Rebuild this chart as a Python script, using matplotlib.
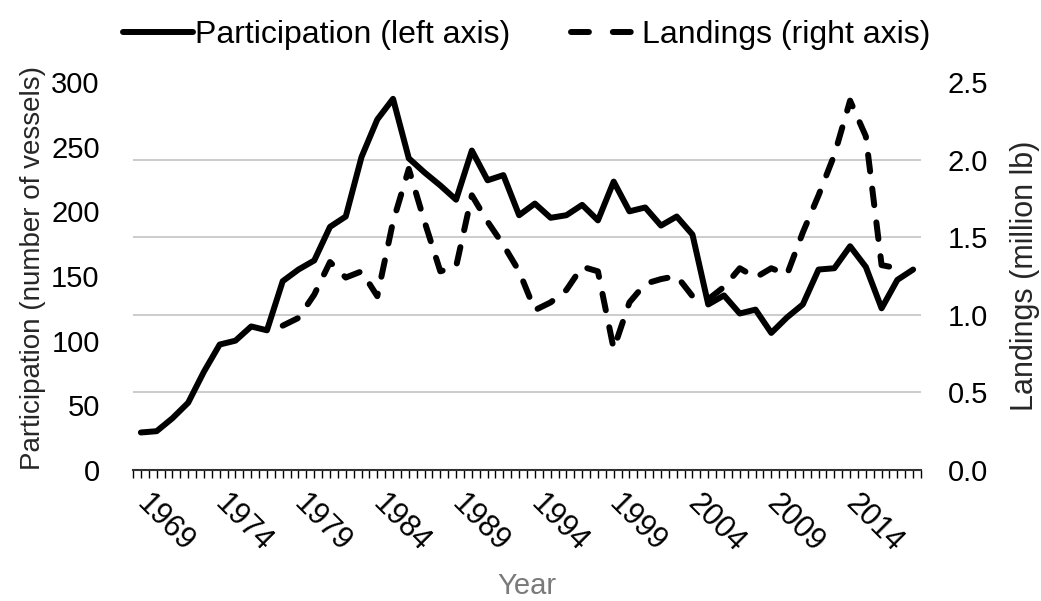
import matplotlib
matplotlib.use("Agg")
import matplotlib.pyplot as plt
from matplotlib.lines import Line2D
from matplotlib.ticker import MultipleLocator
import numpy as np

plt.rcParams['font.family'] = ['Liberation Sans', 'DejaVu Sans']

# participation (vessels), 1969-2018
part_years = list(range(1969, 2019))
participation = [29, 30, 40, 52, 76, 97, 100, 111, 108, 146,
                 155, 162, 188, 196, 242, 271, 287, 241, 230, 220,
                 209, 247, 224, 228, 197, 206, 195, 197, 205, 193,
                 223, 200, 203, 189, 196, 182, 128, 135, 121, 124,
                 106, 118, 128, 155, 156, 173, 157, 125, 147, 155]

# landings (million lb), 1978-2017
land_years = list(range(1978, 2018))
landings = [0.93, 0.98, 1.13, 1.34, 1.24, 1.28, 1.12, 1.60, 1.94, 1.60,
            1.28, 1.31, 1.77, 1.60, 1.45, 1.28, 1.03, 1.08, 1.16, 1.31,
            1.28, 0.78, 1.08, 1.20, 1.23, 1.25, 1.12, 1.10, 1.18, 1.30,
            1.24, 1.30, 1.26, 1.53, 1.77, 2.03, 2.38, 2.15, 1.32, 1.30]

label_years = list(range(1969, 2015, 5))
left_ticks = [0, 50, 100, 150, 200, 250, 300]
right_ticks = [0.0, 0.5, 1.0, 1.5, 2.0, 2.5]

fig = plt.figure(figsize=(10.41, 6.01), dpi=100)
ax1 = fig.add_axes([133/1041, 1 - 470/601, 788/1041, 388/601])
ax2 = ax1.twinx()
ax1.set_zorder(ax2.get_zorder() + 1)
ax1.patch.set_visible(False)

l1, = ax1.plot(part_years, participation, color='black', lw=4.3,
               solid_joinstyle='round', solid_capstyle='round')
ax2.plot(land_years, landings, color='black', lw=4.3,
         linestyle=(0, (2.8, 2.9)), dash_capstyle='round',
         dash_joinstyle='round')
# legend handle with a pattern that shows two dashes like the original
l2 = Line2D([], [], color='black', lw=4.3, linestyle=(0, (3.0, 4.0)),
            dash_capstyle='round')

ax1.set_xlim(1968.5, 2018.5)
ax1.set_ylim(0, 300)
ax2.set_ylim(0, 2.5)

ax1.set_yticks(left_ticks)
ax1.set_yticklabels([str(v) for v in left_ticks])
ax2.set_yticks(right_ticks)
ax2.set_yticklabels(['%.1f' % v for v in right_ticks])
ax1.tick_params(axis='y', length=0, labelsize=21, pad=24)
ax2.tick_params(axis='y', length=0, labelsize=21, pad=19)

ax2.yaxis.grid(True, color='#c8c8c8', lw=1.3)
ax2.set_axisbelow(True)
ax2.get_ygridlines()[-1].set_visible(False)
ax2.get_ygridlines()[0].set_visible(False)

ax1.set_xticks(label_years)
ax1.set_xticklabels([str(y) for y in label_years], rotation=-45,
                    ha='left', va='center', rotation_mode='anchor')
ax1.xaxis.set_minor_locator(MultipleLocator(0.5))
ax1.tick_params(axis='x', which='both', direction='out', length=6,
                width=1, color='black', labelsize=22, pad=15)

for s in ['left', 'right', 'top']:
    ax1.spines[s].set_visible(False)
    ax2.spines[s].set_visible(False)
ax2.spines['bottom'].set_visible(False)
ax1.spines['bottom'].set_color('#333333')
ax1.spines['bottom'].set_linewidth(1.5)

ax1.set_ylabel('Participation (number of vessels)', fontsize=20,
               color='#262626')
ax1.yaxis.set_label_coords(-0.110, 0.52)
ax2.set_ylabel('Landings (million lb)', fontsize=22, color='#262626')
ax2.yaxis.set_label_coords(1.113, 0.50)
ax1.set_xlabel('Year', fontsize=21, color='#7a7a7a')
ax1.xaxis.set_label_coords(0.5, -0.262)

fig.legend([l1, l2], ['Participation (left axis)', 'Landings (right axis)'],
           loc='upper center', bbox_to_anchor=(0.506, 1.015), ncol=2,
           frameon=False, fontsize=23, handlelength=2.2,
           handletextpad=0.05, columnspacing=1.9)

fig.savefig('out.png', dpi=100)
